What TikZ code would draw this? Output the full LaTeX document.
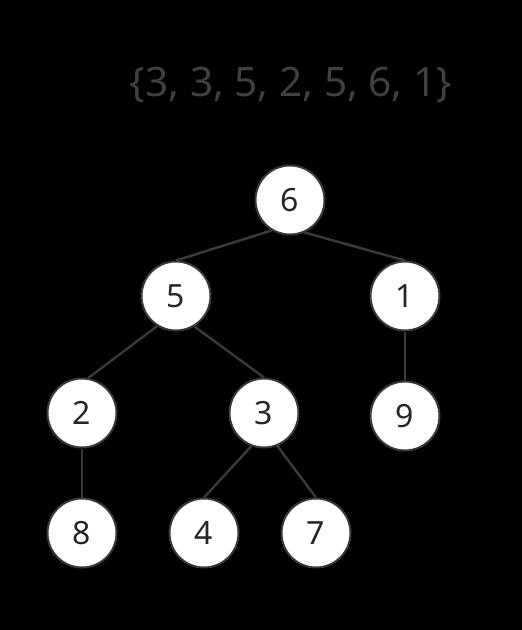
\documentclass[tikz,border=0pt]{standalone}
\usepackage{fontspec}
\setmainfont{Noto Sans}
\definecolor{edgecol}{HTML}{3A3A3A}
\definecolor{titlecol}{HTML}{404040}
\begin{document}
\begin{tikzpicture}[x=1pt,y=-1pt,
  vtx/.style={circle,fill=white,draw=edgecol,line width=2pt,minimum size=69pt,inner sep=0pt,
    font=\fontsize{32}{32}\selectfont,text=black!85},
  link/.style={draw=edgecol,line width=2.5pt}]
\fill[black] (0,0) rectangle (522,630);
\useasboundingbox (0,0) rectangle (522,630);
\node[text=titlecol,font=\fontsize{40.6}{41}\selectfont] (title) at (291,85) {\{3, 3, 5, 2, 5, 6, 1\}};
\node[vtx] (n6) at (290,200) {6};
\node[vtx] (n5) at (176,296) {5};
\node[vtx] (n1) at (405,296) {1};
\node[vtx] (n2) at (82,413) {2};
\node[vtx] (n3) at (264,413) {3};
\node[vtx] (n9) at (405,416) {9};
\node[vtx] (n8) at (82,533) {8};
\node[vtx] (n4) at (204,533) {4};
\node[vtx] (n7) at (316,533) {7};
\draw[link] (n6.239) -- (n5.north);
\draw[link] (n6.294) -- (n1.north);
\draw[link] (n5.238) -- (n2.80);
\draw[link] (n5.301) -- (n3.north);
\draw[link] (n2.south) -- (n8.north);
\draw[link] (n1.south) -- (n9.north);
\draw[link] (n3.249) -- (n4.north);
\draw[link] (n3.292) -- (n7.north);
\end{tikzpicture}
\end{document}
